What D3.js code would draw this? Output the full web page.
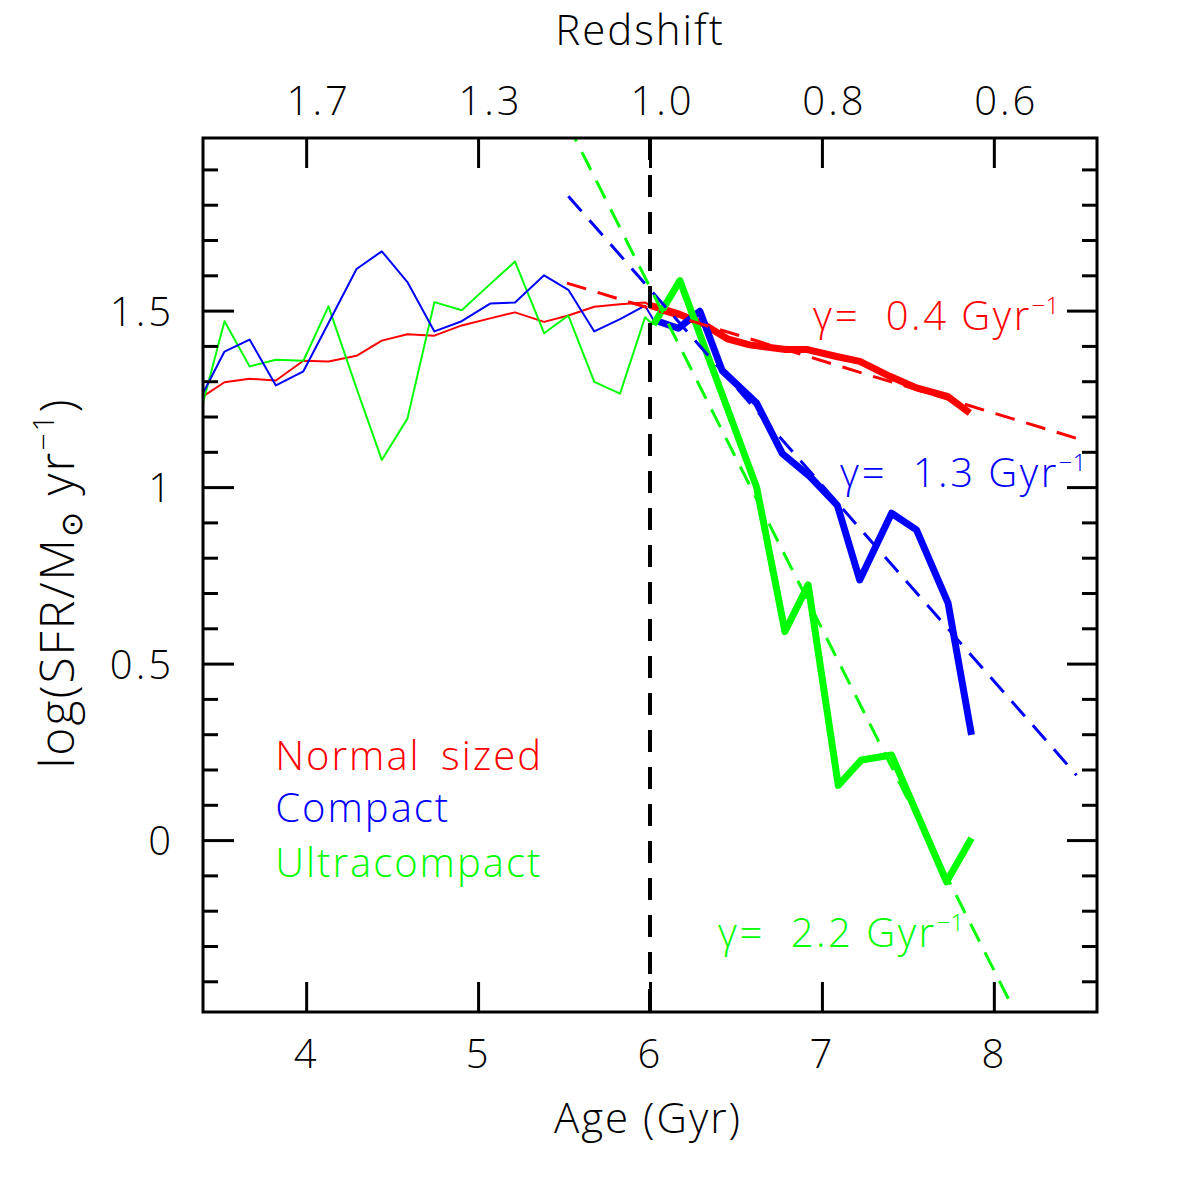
<!DOCTYPE html>
<html>
<head>
<meta charset="utf-8">
<script src="https://cdn.jsdelivr.net/npm/d3@7"></script>
<style>
  body { margin: 0; background: #fff; }
  svg text { font-family: "Open Sans", "DejaVu Sans", sans-serif; font-weight: 300; fill: #000; }
</style>
</head>
<body>
<svg id="chart" width="1196" height="1196"></svg>
<script>
// ages (Gyr) of the thin-line points, before z~1
const earlyAge = [3.40, 3.525, 3.671, 3.824, 3.984, 4.130, 4.293, 4.440, 4.589, 4.746,
                  4.905, 5.070, 5.215, 5.384, 5.525, 5.676, 5.826, 5.971];
const normalEarly  = [1.257, 1.297, 1.307, 1.302, 1.358, 1.356, 1.372, 1.415, 1.433, 1.429,
                      1.458, 1.478, 1.495, 1.468, 1.486, 1.511, 1.518, 1.523];
const compactEarly = [1.266, 1.384, 1.418, 1.288, 1.328, 1.465, 1.618, 1.668, 1.581, 1.441,
                      1.470, 1.520, 1.523, 1.600, 1.559, 1.441, 1.476, 1.514];
const ultraEarly   = [1.238, 1.470, 1.342, 1.361, 1.358, 1.512, 1.280, 1.077, 1.194, 1.524,
                      1.501, 1.575, 1.639, 1.436, 1.486, 1.298, 1.265, 1.481];

// thick lines, after z~1
const normalLateAge = [6.00, 6.17, 6.31, 6.45, 6.58, 6.79, 6.91, 7.085, 7.22, 7.395, 7.55, 7.73, 7.86];
const normalLate    = [1.515, 1.49, 1.462, 1.42, 1.403, 1.39, 1.39, 1.37, 1.356, 1.314, 1.281, 1.257, 1.21];
const compactLateAge = [6.02, 6.165, 6.29, 6.42, 6.62, 6.77, 6.93, 7.09, 7.22, 7.405, 7.55, 7.734, 7.87];
const compactLate    = [1.474, 1.450, 1.498, 1.33, 1.238, 1.095, 1.030, 0.948, 0.737, 0.926, 0.879, 0.671, 0.298];
const ultraLateAge = [6.02, 6.174, 6.62, 6.785, 6.92, 7.095, 7.23, 7.405, 7.725, 7.87];
const ultraLate    = [1.460, 1.585, 1.00, 0.591, 0.723, 0.155, 0.227, 0.241, -0.118, 0.005];

// exponential decline fits (end points)
const fitNormalAge = [5.517, 8.51],  fitNormal = [1.578, 1.134];
const fitCompactAge = [5.525, 8.481], fitCompact = [1.824, 0.184];
const fitUltraAge = [5.52, 8.093],   fitUltra = [2.03, -0.458];

const ageTicks = [4, 5, 6, 7, 8];
const zLabels = ["1.7", "1.3", "1.0", "0.8", "0.6"];
const yMajor = [0, 0.5, 1, 1.5];
const yMinor = [-0.4, -0.3, -0.2, -0.1, 0.1, 0.2, 0.3, 0.4, 0.6, 0.7, 0.8, 0.9,
                1.1, 1.2, 1.3, 1.4, 1.6, 1.7, 1.8, 1.9];
const zTransition = 6.0;

const svg = d3.select("#chart");
const L = 203, R = 1097, T = 138, B = 1012;

var x = d3.scaleLinear().domain([3.4, 8.6]).range([L, R]);
var y = d3.scaleLinear().domain([-0.487, 1.989]).range([B, T]);

svg.append("defs").append("clipPath").attr("id", "plotClip")
  .append("rect").attr("x", L).attr("y", T).attr("width", R - L).attr("height", B - T);

const plot = svg.append("g").attr("clip-path", "url(#plotClip)");

const zip = (a, b) => a.map((v, i) => [v, b[i]]);
var line = d3.line().x(d => x(d[0])).y(d => y(d[1]));

// thin lines (joined to the first point of the thick lines)
const thin = [
  { color: "#ff0000", pts: zip(earlyAge, normalEarly).concat([[normalLateAge[0], normalLate[0]]]) },
  { color: "#00ff00", pts: zip(earlyAge, ultraEarly).concat([[ultraLateAge[0], ultraLate[0]]]) },
  { color: "#0000ff", pts: zip(earlyAge, compactEarly).concat([[compactLateAge[0], compactLate[0]]]) }
];
plot.selectAll("path.thin").data(thin).join("path")
  .attr("class", "thin")
  .attr("d", d => line(d.pts))
  .attr("fill", "none")
  .attr("stroke", d => d.color)
  .attr("stroke-width", 2)
  .attr("stroke-linejoin", "round");

const thick = [
  { color: "#ff0000", pts: zip(normalLateAge, normalLate) },
  { color: "#0000ff", pts: zip(compactLateAge, compactLate) },
  { color: "#00ff00", pts: zip(ultraLateAge, ultraLate) }
];
plot.selectAll("path.thick").data(thick).join("path")
  .attr("class", "thick")
  .attr("d", d => line(d.pts))
  .attr("fill", "none")
  .attr("stroke", d => d.color)
  .attr("stroke-width", 7)
  .attr("stroke-linejoin", "round");

const fits = [
  { color: "#ff0000", pts: zip(fitNormalAge, fitNormal) },
  { color: "#0000ff", pts: zip(fitCompactAge, fitCompact) },
  { color: "#00ff00", pts: zip(fitUltraAge, fitUltra) }
];
plot.selectAll("path.fit").data(fits).join("path")
  .attr("class", "fit")
  .attr("d", d => line(d.pts))
  .attr("fill", "none")
  .attr("stroke", d => d.color)
  .attr("stroke-width", 3)
  .attr("stroke-dasharray", "20 12");

// z = 1 marker
plot.append("line")
  .attr("x1", x(zTransition)).attr("x2", x(zTransition))
  .attr("y1", T).attr("y2", B)
  .attr("stroke", "#000").attr("stroke-width", 4)
  .attr("stroke-dasharray", "22 15");

// axes
function styleAxis(g) {
  g.select(".domain").remove();
  g.selectAll(".tick line").attr("stroke", "#000").attr("stroke-width", 3);
  g.selectAll(".tick text").attr("font-size", 40).attr("letter-spacing", 3)
    .style("font-family", null).attr("fill", "#000");
}

svg.append("g").attr("transform", `translate(0,${B})`)
  .call(d3.axisBottom(x).tickValues(ageTicks).tickSize(-30).tickPadding(28).tickFormat(d3.format("d")))
  .call(styleAxis);

svg.append("g").attr("transform", `translate(0,${T})`)
  .call(d3.axisTop(x).tickValues(ageTicks).tickSize(-30).tickPadding(23).tickFormat((d, i) => zLabels[i]))
  .call(styleAxis)
  .selectAll(".tick text").attr("dx", 12);

svg.append("g").attr("transform", `translate(${L},0)`)
  .call(d3.axisLeft(y).tickValues(yMajor).tickSize(-31).tickPadding(29).tickFormat(d3.format("")))
  .call(styleAxis)
  .selectAll(".tick text").attr("dy", "0.37em");

svg.append("g").attr("transform", `translate(${L},0)`)
  .call(d3.axisLeft(y).tickValues(yMinor).tickSize(-15).tickFormat(""))
  .call(styleAxis);

svg.append("g").attr("transform", `translate(${R},0)`)
  .call(d3.axisRight(y).tickValues(yMajor).tickSize(-30).tickFormat(""))
  .call(styleAxis);

svg.append("g").attr("transform", `translate(${R},0)`)
  .call(d3.axisRight(y).tickValues(yMinor).tickSize(-15).tickFormat(""))
  .call(styleAxis);

svg.append("rect")
  .attr("x", L).attr("y", T).attr("width", R - L).attr("height", B - T)
  .attr("fill", "none").attr("stroke", "#000").attr("stroke-width", 3);

// axis titles
svg.append("text").attr("x", 640).attr("y", 45)
  .attr("text-anchor", "middle").attr("font-size", 42).attr("letter-spacing", 2)
  .text("Redshift");

svg.append("text").attr("x", 648).attr("y", 1133)
  .attr("text-anchor", "middle").attr("font-size", 42).attr("letter-spacing", 2)
  .text("Age (Gyr)");

const yt = svg.append("text")
  .attr("transform", "translate(74,583) rotate(-90)")
  .attr("text-anchor", "middle").attr("font-size", 48).attr("letter-spacing", 2);
yt.append("tspan").text("log(SFR/M");
yt.append("tspan").attr("font-size", 30).attr("dy", 8).text("⊙");
yt.append("tspan").attr("dy", -8).text(" yr");
yt.append("tspan").attr("font-size", 30).attr("dy", -20).text("−1");
yt.append("tspan").attr("dy", 20).text(")");

// legend
const legend = [
  { label: "Normal sized", color: "#ff0000", v: 0.198 },
  { label: "Compact", color: "#0000ff", v: 0.051 },
  { label: "Ultracompact", color: "#00ff00", v: -0.105 }
];
svg.selectAll("text.legend").data(legend).join("text")
  .attr("class", "legend")
  .attr("x", x(3.82)).attr("y", d => y(d.v))
  .attr("font-size", 40).attr("letter-spacing", 2).attr("word-spacing", 8)
  .style("fill", d => d.color)
  .text(d => d.label);

// decline rates
const rates = [
  { g: "0.4", color: "#ff0000", a: 6.948, v: 1.445 },
  { g: "1.3", color: "#0000ff", a: 7.105, v: 1.0 },
  { g: "2.2", color: "#00ff00", a: 6.395, v: -0.303 }
];
const rt = svg.selectAll("text.rate").data(rates).join("text")
  .attr("class", "rate")
  .attr("x", d => x(d.a)).attr("y", d => y(d.v))
  .attr("font-size", 40).attr("letter-spacing", 2.5)
  .style("fill", d => d.color)
  .style("white-space", "pre");
rt.append("tspan").text(d => "γ=  " + d.g + " Gyr");
rt.append("tspan").attr("font-size", 24).attr("letter-spacing", 0).attr("dy", -16).text("−1");
</script>
</body>
</html>
